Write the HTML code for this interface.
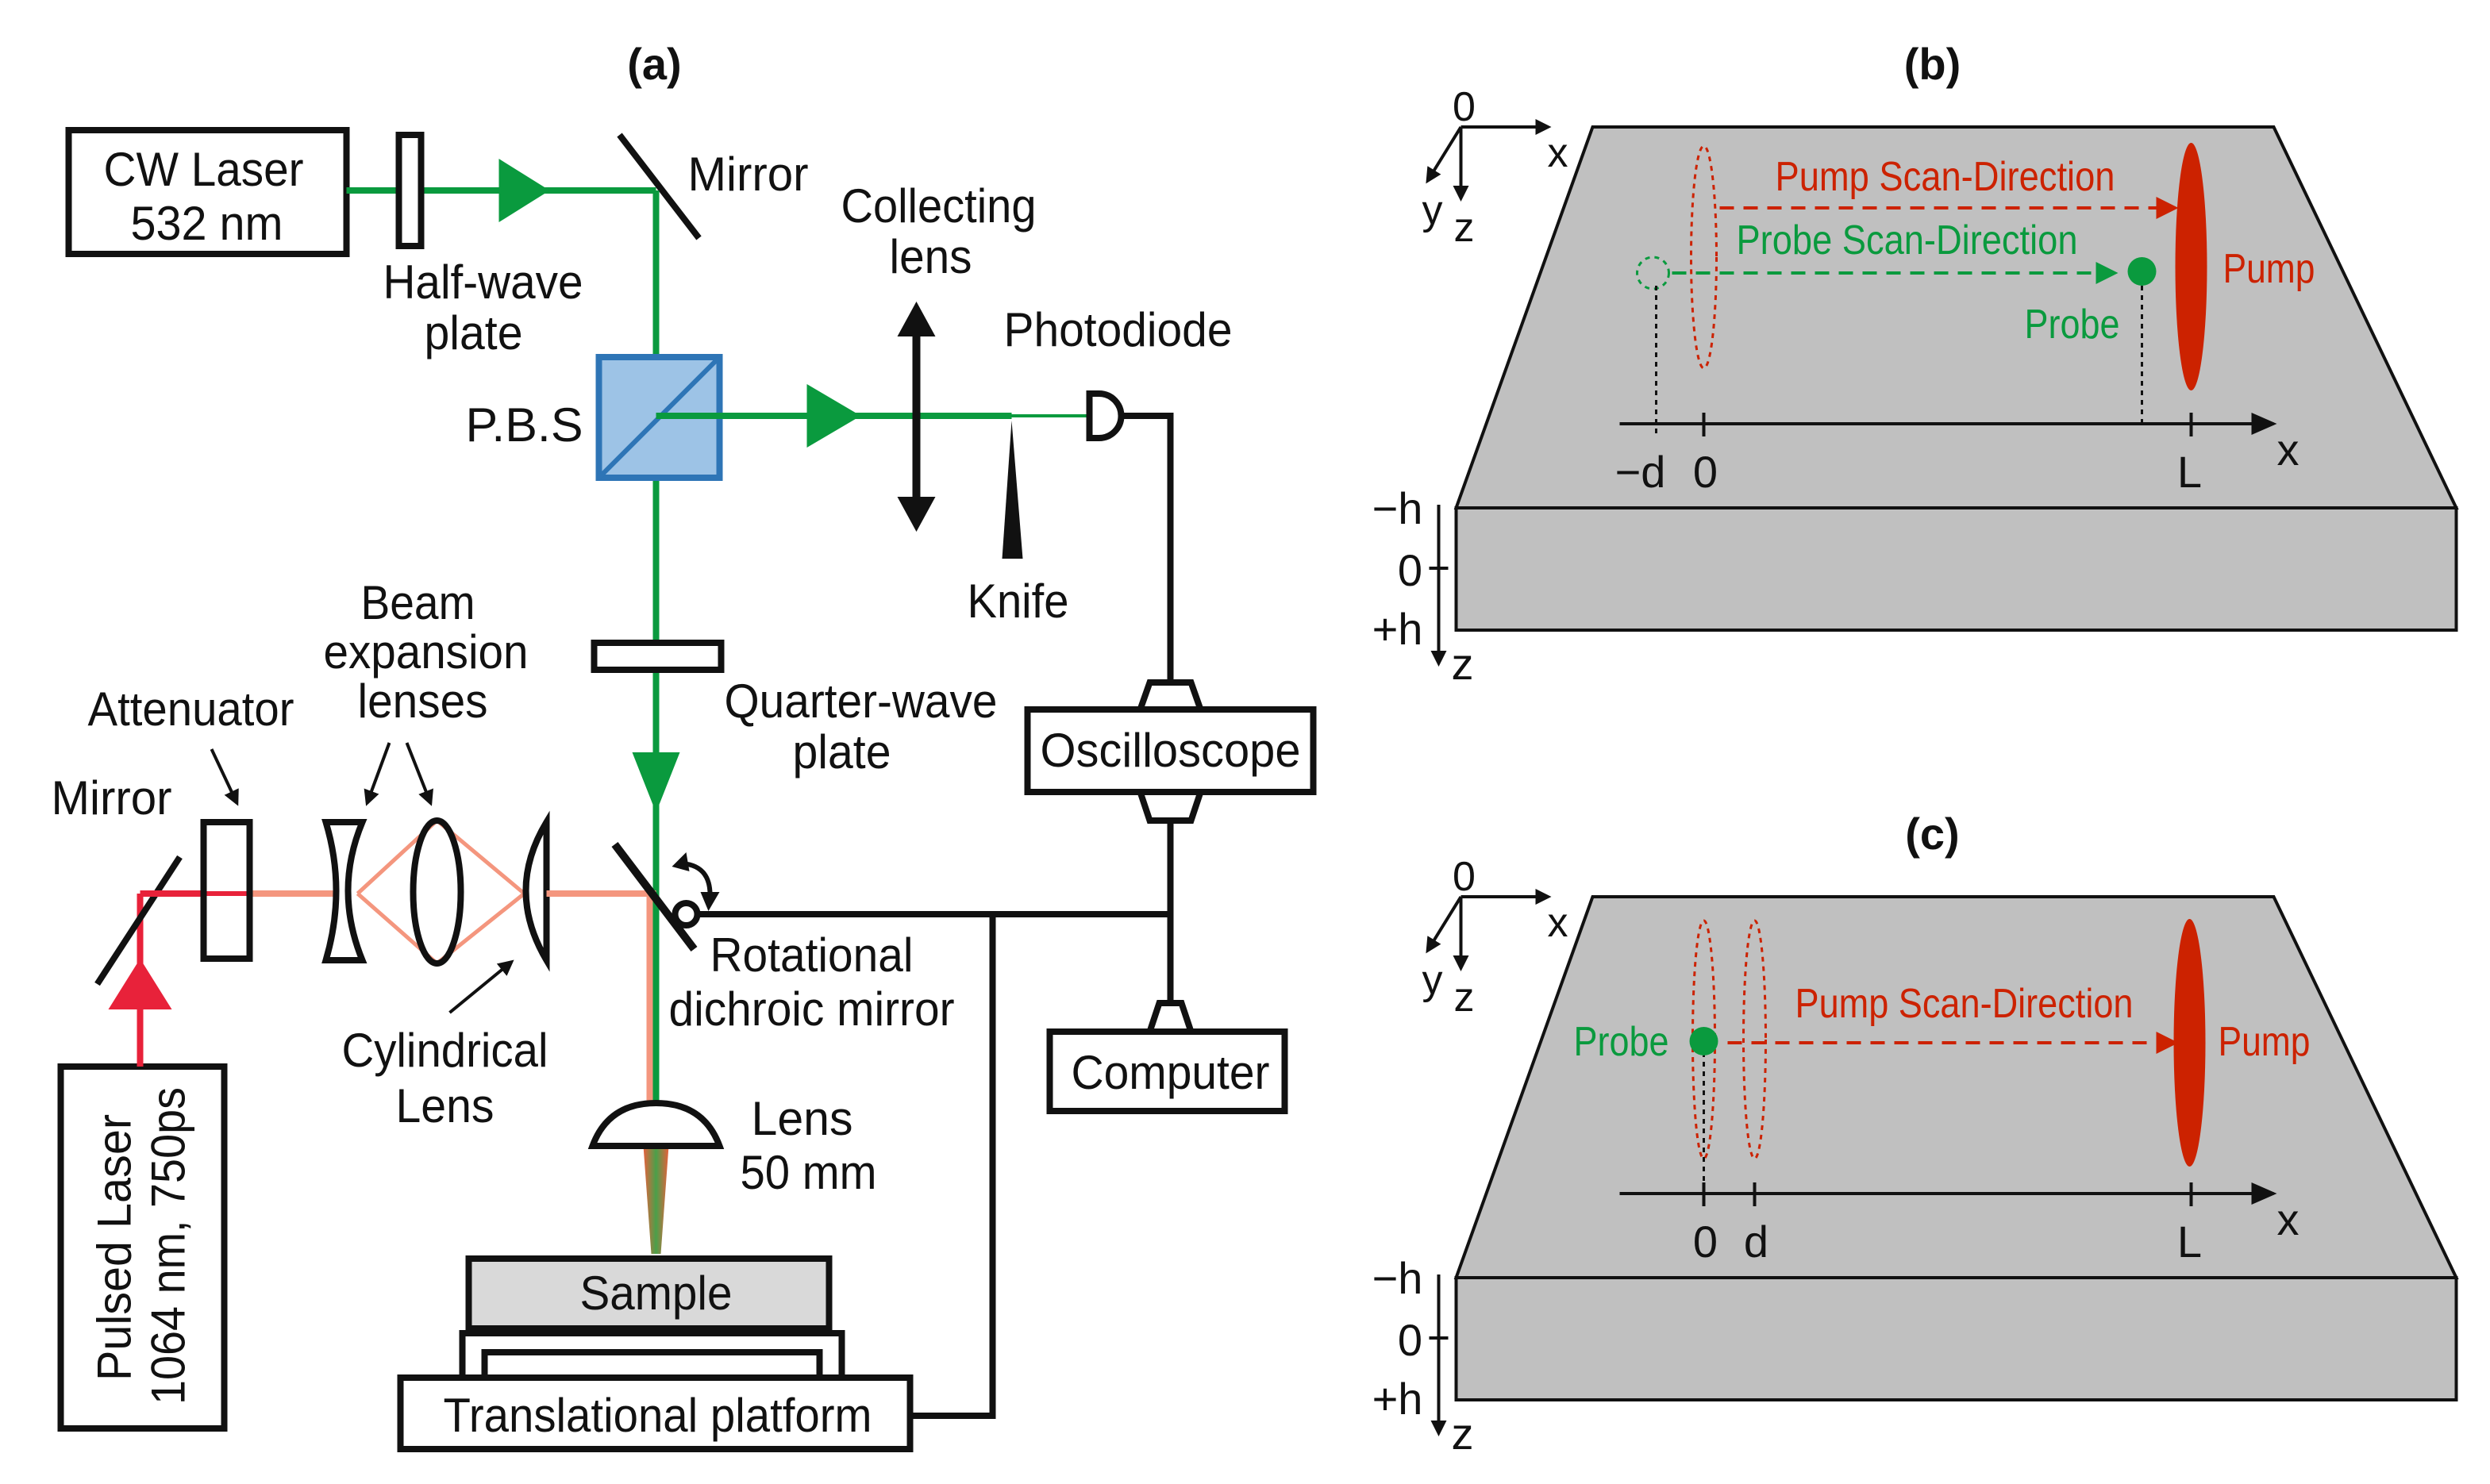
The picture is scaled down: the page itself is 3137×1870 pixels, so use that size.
<!DOCTYPE html>
<html><head><meta charset="utf-8"><style>
html,body{margin:0;padding:0;background:#fff;}
svg{display:block;}
text{font-family:"Liberation Sans Narrow","Liberation Sans",sans-serif;fill:#111;}
</style></head><body>
<svg width="3137" height="1870" viewBox="0 0 1568 935" xmlns="http://www.w3.org/2000/svg">
<defs>
<marker id="ar" markerWidth="10" markerHeight="10" refX="8" refY="5" orient="auto" markerUnits="userSpaceOnUse"><path d="M0,0 L10,5 L0,10 Z" fill="#111"/></marker>
<marker id="arr" markerWidth="14" markerHeight="14" refX="12" refY="7" orient="auto" markerUnits="userSpaceOnUse"><path d="M0,0 L14,7 L0,14 Z" fill="#cc2200"/></marker>
<marker id="arg" markerWidth="14" markerHeight="14" refX="12" refY="7" orient="auto" markerUnits="userSpaceOnUse"><path d="M0,0 L14,7 L0,14 Z" fill="#0a9a3e"/></marker>
<marker id="ark" markerWidth="16" markerHeight="14" refX="14" refY="7" orient="auto" markerUnits="userSpaceOnUse"><path d="M0,0 L16,7 L0,14 Z" fill="#111"/></marker>
<linearGradient id="cone" x1="0" x2="1"><stop offset="0" stop-color="#e8603c"/><stop offset="0.5" stop-color="#4aa04a"/><stop offset="1" stop-color="#e8603c"/></linearGradient>
</defs>

<!-- ===== Panel (a) ===== -->
<text x="412" y="50" font-size="28" font-weight="bold" text-anchor="middle" font-family="Liberation Sans">(a)</text>

<rect x="43" y="82" width="175" height="78" fill="#fff" stroke="#111" stroke-width="4"/>
<text x="128" y="117" font-size="30" text-anchor="middle" textLength="126" lengthAdjust="spacingAndGlyphs">CW Laser</text>
<text x="130" y="151" font-size="30" text-anchor="middle" textLength="96" lengthAdjust="spacingAndGlyphs">532 nm</text>
<line x1="218" y1="120" x2="413" y2="120" stroke="#0a9a3e" stroke-width="4"/>
<rect x="251" y="85" width="14" height="70" fill="#fff" stroke="#111" stroke-width="4"/>
<path d="M314,100 L346,120 L314,140 Z" fill="#0a9a3e"/>
<line x1="390" y1="85" x2="440" y2="150" stroke="#111" stroke-width="4"/>
<text x="433" y="120" font-size="30" textLength="76" lengthAdjust="spacingAndGlyphs">Mirror</text>
<text x="304" y="188" font-size="30" text-anchor="middle" textLength="126" lengthAdjust="spacingAndGlyphs">Half-wave</text>
<text x="298" y="220" font-size="30" text-anchor="middle" textLength="62" lengthAdjust="spacingAndGlyphs">plate</text>

<line x1="413" y1="120" x2="413" y2="700" stroke="#0a9a3e" stroke-width="4"/>
<rect x="377" y="225" width="76" height="76" fill="#9dc3e6" stroke="#2e75b6" stroke-width="4"/>
<line x1="377" y1="301" x2="453" y2="225" stroke="#2e75b6" stroke-width="3"/>
<text x="293" y="278" font-size="30" textLength="74" lengthAdjust="spacingAndGlyphs">P.B.S</text>

<line x1="413" y1="262" x2="637" y2="262" stroke="#0a9a3e" stroke-width="4"/>
<line x1="637" y1="262" x2="686" y2="262" stroke="#0a9a3e" stroke-width="2"/>
<path d="M508,242 L542,262 L508,282 Z" fill="#0a9a3e"/>
<line x1="577" y1="200" x2="577" y2="325" stroke="#111" stroke-width="5"/>
<path d="M565,212 L577,190 L589,212 Z" fill="#111"/>
<path d="M565,313 L577,335 L589,313 Z" fill="#111"/>
<text x="591" y="140" font-size="30" text-anchor="middle" textLength="123" lengthAdjust="spacingAndGlyphs">Collecting</text>
<text x="586" y="172" font-size="30" text-anchor="middle" textLength="52" lengthAdjust="spacingAndGlyphs">lens</text>
<path d="M637,265 L631,352 L644,352 Z" fill="#111"/>
<text x="641" y="389" font-size="30" text-anchor="middle" textLength="64" lengthAdjust="spacingAndGlyphs">Knife</text>
<path d="M686,248 L692,248 A14,14 0 0 1 692,276 L686,276 Z" fill="#fff" stroke="#111" stroke-width="4"/>
<text x="704" y="218" font-size="30" text-anchor="middle" textLength="144" lengthAdjust="spacingAndGlyphs">Photodiode</text>
<polyline points="706,262 737,262 737,428" fill="none" stroke="#111" stroke-width="4"/>

<rect x="374" y="405" width="80" height="17" fill="#fff" stroke="#111" stroke-width="4"/>
<text x="542" y="452" font-size="30" text-anchor="middle" textLength="172" lengthAdjust="spacingAndGlyphs">Quarter-wave</text>
<text x="530" y="484" font-size="30" text-anchor="middle" textLength="62" lengthAdjust="spacingAndGlyphs">plate</text>
<path d="M398,474 L413,512 L428,474 Z" fill="#0a9a3e"/>

<path d="M724,430 L750,430 L756,447 L718,447 Z" fill="#fff" stroke="#111" stroke-width="4"/>
<path d="M718,499 L756,499 L750,517 L724,517 Z" fill="#fff" stroke="#111" stroke-width="4"/>
<rect x="647" y="447" width="180" height="52" fill="#fff" stroke="#111" stroke-width="4"/>
<text x="737" y="483" font-size="30" text-anchor="middle" textLength="164" lengthAdjust="spacingAndGlyphs">Oscilloscope</text>
<line x1="737" y1="517" x2="737" y2="632" stroke="#111" stroke-width="4"/>
<path d="M730,632 L744,632 L750,650 L724,650 Z" fill="#fff" stroke="#111" stroke-width="4"/>
<rect x="661" y="650" width="148" height="50" fill="#fff" stroke="#111" stroke-width="4"/>
<text x="737" y="686" font-size="30" text-anchor="middle" textLength="125" lengthAdjust="spacingAndGlyphs">Computer</text>
<line x1="438" y1="576" x2="737" y2="576" stroke="#111" stroke-width="4"/>
<polyline points="625,576 625,892 572,892" fill="none" stroke="#111" stroke-width="4"/>

<rect x="38" y="672" width="103" height="228" fill="#fff" stroke="#111" stroke-width="4"/>
<text transform="translate(82,870) rotate(-90)" font-size="30" textLength="168" lengthAdjust="spacingAndGlyphs">Pulsed Laser</text>
<text transform="translate(116,885) rotate(-90)" font-size="30" textLength="200" lengthAdjust="spacingAndGlyphs">1064 nm, 750ps</text>
<line x1="88" y1="672" x2="88" y2="563" stroke="#e8223a" stroke-width="4"/>
<path d="M68,636 L88,604 L108,636 Z" fill="#e8223a"/>
<line x1="61" y1="620" x2="113" y2="540" stroke="#111" stroke-width="4"/>
<text x="70" y="513" font-size="30" text-anchor="middle" textLength="76" lengthAdjust="spacingAndGlyphs">Mirror</text>
<line x1="88" y1="563" x2="128" y2="563" stroke="#e8223a" stroke-width="4"/>
<line x1="157" y1="563" x2="210" y2="563" stroke="#f4967e" stroke-width="4"/>
<rect x="128" y="518" width="29" height="86" fill="#fff" stroke="#111" stroke-width="4"/>
<line x1="130" y1="563" x2="155" y2="563" stroke="#e8223a" stroke-width="3"/>
<text x="120" y="457" font-size="30" text-anchor="middle" textLength="130" lengthAdjust="spacingAndGlyphs">Attenuator</text>
<line x1="133" y1="472" x2="149" y2="506" stroke="#111" stroke-width="2" marker-end="url(#ar)"/>

<polyline points="225,563 275,517 330,563" fill="none" stroke="#f4967e" stroke-width="2.5"/>
<polyline points="225,563 275,607 330,563" fill="none" stroke="#f4967e" stroke-width="2.5"/>
<path d="M205,518 L228,518 Q210,561 228,605 L205,605 Q218,561 205,518 Z" fill="#fff" stroke="#111" stroke-width="4"/>
<ellipse cx="275" cy="562" rx="15" ry="45" fill="none" stroke="#111" stroke-width="4"/>
<path d="M344,518 Q318,561 344,605 Z" fill="#fff" stroke="#111" stroke-width="4"/>
<line x1="344" y1="563" x2="413" y2="563" stroke="#f4967e" stroke-width="4"/>
<line x1="409" y1="563" x2="409" y2="700" stroke="#f4967e" stroke-width="4"/>
<line x1="413" y1="563" x2="413" y2="700" stroke="#0a9a3e" stroke-width="4"/>
<text x="263" y="390" font-size="30" text-anchor="middle" textLength="72" lengthAdjust="spacingAndGlyphs">Beam</text>
<text x="268" y="421" font-size="30" text-anchor="middle" textLength="129" lengthAdjust="spacingAndGlyphs">expansion</text>
<text x="266" y="452" font-size="30" text-anchor="middle" textLength="82" lengthAdjust="spacingAndGlyphs">lenses</text>
<line x1="245" y1="468" x2="231" y2="506" stroke="#111" stroke-width="2" marker-end="url(#ar)"/>
<line x1="256" y1="468" x2="271" y2="506" stroke="#111" stroke-width="2" marker-end="url(#ar)"/>
<text x="280" y="672" font-size="30" text-anchor="middle" textLength="130" lengthAdjust="spacingAndGlyphs">Cylindrical</text>
<text x="280" y="707" font-size="30" text-anchor="middle" textLength="62" lengthAdjust="spacingAndGlyphs">Lens</text>
<line x1="283" y1="638" x2="322" y2="606" stroke="#111" stroke-width="2" marker-end="url(#ar)"/>

<line x1="387" y1="532" x2="437" y2="598" stroke="#111" stroke-width="5"/>
<circle cx="432" cy="576" r="7" fill="#fff" stroke="#111" stroke-width="4"/>
<path d="M447,566 Q448,544 427,544" fill="none" stroke="#111" stroke-width="3"/>
<path d="M441,562 L453,562 L446,574 Z" fill="#111"/>
<path d="M432,537 L423,546 L434,549 Z" fill="#111"/>
<text x="511" y="612" font-size="30" text-anchor="middle" textLength="128" lengthAdjust="spacingAndGlyphs">Rotational</text>
<text x="511" y="646" font-size="30" text-anchor="middle" textLength="180" lengthAdjust="spacingAndGlyphs">dichroic mirror</text>

<path d="M405,722 L421,722 L416,790 L410,790 Z" fill="url(#cone)"/>
<path d="M373,722 Q383,695 413,695 Q443,695 453,722 Z" fill="#fff" stroke="#111" stroke-width="4"/>
<text x="505" y="715" font-size="30" text-anchor="middle" textLength="64" lengthAdjust="spacingAndGlyphs">Lens</text>
<text x="509" y="749" font-size="30" text-anchor="middle" textLength="86" lengthAdjust="spacingAndGlyphs">50 mm</text>

<rect x="295" y="793" width="227" height="44" fill="#d9d9d9" stroke="#111" stroke-width="4"/>
<text x="413" y="825" font-size="30" text-anchor="middle" textLength="96" lengthAdjust="spacingAndGlyphs">Sample</text>
<polyline points="291,868 291,840 530,840 530,868" fill="none" stroke="#111" stroke-width="4"/>
<polyline points="305,868 305,852 516,852 516,868" fill="none" stroke="#111" stroke-width="4"/>
<rect x="252" y="868" width="321" height="45" fill="#fff" stroke="#111" stroke-width="4"/>
<text x="414" y="902" font-size="30" text-anchor="middle" textLength="270" lengthAdjust="spacingAndGlyphs">Translational platform</text>

<!-- ===== Panel (b) ===== -->
<g>
<text x="1217" y="50" font-size="28" font-weight="bold" text-anchor="middle" font-family="Liberation Sans">(b)</text>
<path d="M1003,80 L1432,80 L1547,320 L917,320 Z" fill="#c0c0c0" stroke="#111" stroke-width="2"/>
<rect x="917" y="320" width="630" height="77" fill="#c0c0c0" stroke="#111" stroke-width="2"/>
<line x1="920" y1="80" x2="975" y2="80" stroke="#111" stroke-width="2" marker-end="url(#ar)"/>
<line x1="920" y1="80" x2="920" y2="125" stroke="#111" stroke-width="2" marker-end="url(#ar)"/>
<line x1="920" y1="80" x2="899" y2="114" stroke="#111" stroke-width="2" marker-end="url(#ar)"/>
<text x="922" y="76" font-size="26" text-anchor="middle">0</text>
<text x="981" y="105" font-size="26" text-anchor="middle">x</text>
<text x="902" y="141" font-size="26" text-anchor="middle">y</text>
<text x="922" y="152" font-size="26" text-anchor="middle">z</text>
<ellipse cx="1073" cy="162" rx="8" ry="70" fill="none" stroke="#cc2200" stroke-width="1.5" stroke-dasharray="3,3"/>
<ellipse cx="1380" cy="168" rx="10" ry="78" fill="#cc2200"/>
<text x="1225" y="120" font-size="26" style="fill:#cc2200" text-anchor="middle" textLength="214" lengthAdjust="spacingAndGlyphs">Pump Scan-Direction</text>
<line x1="1083" y1="131" x2="1370" y2="131" stroke="#cc2200" stroke-width="2" stroke-dasharray="9,6" marker-end="url(#arr)"/>
<text x="1201" y="160" font-size="26" style="fill:#0a9a3e" text-anchor="middle" textLength="215" lengthAdjust="spacingAndGlyphs">Probe Scan-Direction</text>
<line x1="1053" y1="172" x2="1332" y2="172" stroke="#0a9a3e" stroke-width="2" stroke-dasharray="9,6" marker-end="url(#arg)"/>
<circle cx="1041" cy="172" r="10" fill="none" stroke="#0a9a3e" stroke-width="1.5" stroke-dasharray="3,3"/>
<circle cx="1349" cy="171" r="9" fill="#0a9a3e"/>
<text x="1305" y="213" font-size="26" style="fill:#0a9a3e" text-anchor="middle" textLength="60" lengthAdjust="spacingAndGlyphs">Probe</text>
<text x="1429" y="178" font-size="26" style="fill:#cc2200" text-anchor="middle" textLength="58" lengthAdjust="spacingAndGlyphs">Pump</text>
<line x1="1020" y1="267" x2="1432" y2="267" stroke="#111" stroke-width="2" marker-end="url(#ark)"/>
<line x1="1043" y1="180" x2="1043" y2="275" stroke="#111" stroke-width="1.5" stroke-dasharray="3,3"/>
<line x1="1349" y1="180" x2="1349" y2="267" stroke="#111" stroke-width="1.5" stroke-dasharray="3,3"/>
<line x1="1073" y1="260" x2="1073" y2="275" stroke="#111" stroke-width="2"/>
<line x1="1380" y1="260" x2="1380" y2="275" stroke="#111" stroke-width="2"/>
<text x="1033" y="307" font-size="28" text-anchor="middle">−d</text>
<text x="1074" y="307" font-size="28" text-anchor="middle">0</text>
<text x="1379" y="307" font-size="28" text-anchor="middle">L</text>
<text x="1441" y="293" font-size="28" text-anchor="middle">x</text>
<line x1="906" y1="318" x2="906" y2="418" stroke="#111" stroke-width="2" marker-end="url(#ar)"/>
<line x1="900" y1="358" x2="912" y2="358" stroke="#111" stroke-width="2"/>
<text x="880" y="330" font-size="28" text-anchor="middle">−h</text>
<text x="888" y="369" font-size="28" text-anchor="middle">0</text>
<text x="880" y="406" font-size="28" text-anchor="middle">+h</text>
<text x="921" y="428" font-size="28" text-anchor="middle">z</text>
</g>

<!-- ===== Panel (c) ===== -->
<g transform="translate(0,485)">
<text x="1217" y="50" font-size="28" font-weight="bold" text-anchor="middle" font-family="Liberation Sans">(c)</text>
<path d="M1003,80 L1432,80 L1547,320 L917,320 Z" fill="#c0c0c0" stroke="#111" stroke-width="2"/>
<rect x="917" y="320" width="630" height="77" fill="#c0c0c0" stroke="#111" stroke-width="2"/>
<line x1="920" y1="80" x2="975" y2="80" stroke="#111" stroke-width="2" marker-end="url(#ar)"/>
<line x1="920" y1="80" x2="920" y2="125" stroke="#111" stroke-width="2" marker-end="url(#ar)"/>
<line x1="920" y1="80" x2="899" y2="114" stroke="#111" stroke-width="2" marker-end="url(#ar)"/>
<text x="922" y="76" font-size="26" text-anchor="middle">0</text>
<text x="981" y="105" font-size="26" text-anchor="middle">x</text>
<text x="902" y="141" font-size="26" text-anchor="middle">y</text>
<text x="922" y="152" font-size="26" text-anchor="middle">z</text>
<ellipse cx="1073" cy="170" rx="7" ry="75" fill="none" stroke="#cc2200" stroke-width="1.5" stroke-dasharray="3,3"/>
<ellipse cx="1105" cy="170" rx="7" ry="75" fill="none" stroke="#cc2200" stroke-width="1.5" stroke-dasharray="3,3"/>
<ellipse cx="1379" cy="172" rx="10" ry="78" fill="#cc2200"/>
<text x="1237" y="156" font-size="26" style="fill:#cc2200" text-anchor="middle" textLength="213" lengthAdjust="spacingAndGlyphs">Pump Scan-Direction</text>
<line x1="1088" y1="172" x2="1370" y2="172" stroke="#cc2200" stroke-width="2" stroke-dasharray="9,6" marker-end="url(#arr)"/>
<line x1="1073" y1="172" x2="1073" y2="267" stroke="#111" stroke-width="1.5" stroke-dasharray="3,3"/>
<circle cx="1073" cy="171" r="9" fill="#0a9a3e"/>
<text x="1021" y="180" font-size="26" style="fill:#0a9a3e" text-anchor="middle" textLength="60" lengthAdjust="spacingAndGlyphs">Probe</text>
<text x="1426" y="180" font-size="26" style="fill:#cc2200" text-anchor="middle" textLength="58" lengthAdjust="spacingAndGlyphs">Pump</text>
<line x1="1020" y1="267" x2="1432" y2="267" stroke="#111" stroke-width="2" marker-end="url(#ark)"/>
<line x1="1073" y1="260" x2="1073" y2="275" stroke="#111" stroke-width="2"/>
<line x1="1105" y1="260" x2="1105" y2="275" stroke="#111" stroke-width="2"/>
<line x1="1380" y1="260" x2="1380" y2="275" stroke="#111" stroke-width="2"/>
<text x="1074" y="307" font-size="28" text-anchor="middle">0</text>
<text x="1106" y="307" font-size="28" text-anchor="middle">d</text>
<text x="1379" y="307" font-size="28" text-anchor="middle">L</text>
<text x="1441" y="293" font-size="28" text-anchor="middle">x</text>
<line x1="906" y1="318" x2="906" y2="418" stroke="#111" stroke-width="2" marker-end="url(#ar)"/>
<line x1="900" y1="358" x2="912" y2="358" stroke="#111" stroke-width="2"/>
<text x="880" y="330" font-size="28" text-anchor="middle">−h</text>
<text x="888" y="369" font-size="28" text-anchor="middle">0</text>
<text x="880" y="406" font-size="28" text-anchor="middle">+h</text>
<text x="921" y="428" font-size="28" text-anchor="middle">z</text>
</g>
</svg>
</body></html>
